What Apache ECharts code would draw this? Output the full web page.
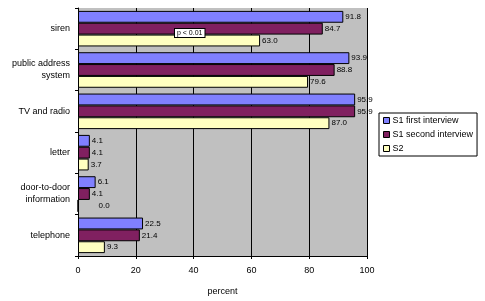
<!DOCTYPE html>
<html>
<head>
<meta charset="utf-8">
<script src="https://cdn.jsdelivr.net/npm/echarts@6/dist/echarts.min.js"></script>
<style>
  html, body { margin: 0; padding: 0; background: #fff; }
  #main { width: 485px; height: 301px; }
</style>
</head>
<body>
<div id="main"></div>
<script>
const categories = ["siren", "public address\nsystem", "TV and radio", "letter", "door-to-door\ninformation", "telephone"];
const s1First = [91.8, 93.9, 95.9, 4.1, 6.1, 22.5];
const s1Second = [84.7, 88.8, 95.9, 4.1, 4.1, 21.4];
const s2 = [63.0, 79.6, 87.0, 3.7, 0.0, 9.3];
const xTicks = [0, 20, 40, 60, 80, 100];

const font = "Liberation Sans, Arial, sans-serif";

let myChart = echarts.init(document.getElementById("main"));

function makeSeries(name, data, color) {
  return {
    name: name,
    type: "bar",
    data: data.map((v) => ({
      value: v,
      label: v === 0 ? { offset: [18, 0] } : undefined,
    })),
    barGap: "0%",
    barCategoryGap: "14%",
    itemStyle: { color: color, borderColor: "#000", borderWidth: 1 },
    label: {
      show: true,
      position: "right",
      distance: 2,
      fontSize: 8,
      fontFamily: font,
      color: "#000",
      formatter: (p) => p.value.toFixed(1),
    },
  };
}

myChart.setOption({
  animation: false,
  legend: {
    orient: "vertical",
    left: 379,
    top: 113,
    width: 100,
    itemWidth: 6,
    itemHeight: 6,
    itemGap: 5,
    padding: [3, 4, 3, 4],
    borderColor: "#000",
    borderWidth: 1,
    icon: "rect",
    textStyle: { fontSize: 9, fontFamily: font, color: "#000", padding: [0, 0, 0, -2] },
    itemStyle: { borderColor: "#000", borderWidth: 1 },
    data: ["S1 first interview", "S1 second interview", "S2"],
  },
  grid: {
    left: 78,
    right: 118,
    top: 8,
    bottom: 43,
    show: true,
    backgroundColor: "#c0c0c0",
    borderColor: "#a0a0a0",
    borderWidth: 0,
  },
  xAxis: {
    type: "value",
    min: 0,
    max: 100,
    interval: 20,
    name: "percent",
    nameLocation: "middle",
    nameGap: 31,
    nameTextStyle: { fontSize: 9, fontFamily: font, color: "#000" },
    axisLine: { show: true, lineStyle: { color: "#000" } },
    axisTick: { show: true, length: 3, lineStyle: { color: "#000" } },
    axisLabel: { fontSize: 9, fontFamily: font, color: "#000", margin: 10 },
    splitLine: { show: true, lineStyle: { color: "#000", width: 1 } },
  },
  yAxis: {
    type: "category",
    inverse: true,
    data: categories,
    axisLine: { show: true, lineStyle: { color: "#000" } },
    axisTick: { show: true, length: 3, lineStyle: { color: "#000" } },
    axisLabel: { fontSize: 9, fontFamily: font, color: "#000", margin: 8, lineHeight: 12 },
  },
  series: [
    makeSeries("S1 first interview", s1First, "#8080ff"),
    makeSeries("S1 second interview", s1Second, "#802060"),
    makeSeries("S2", s2, "#ffffc0"),
  ],
  graphic: [
    {
      type: "text",
      left: 174,
      top: 28,
      z: 100,
      zlevel: 1,
      style: {
        text: "p < 0.01",
        fontSize: 7,
        fontFamily: font,
        fill: "#000",
        backgroundColor: "#fff",
        borderColor: "#000",
        borderWidth: 1,
        padding: [1, 2, 0, 2],
      },
    },
  ],
});
</script>
</body>
</html>
